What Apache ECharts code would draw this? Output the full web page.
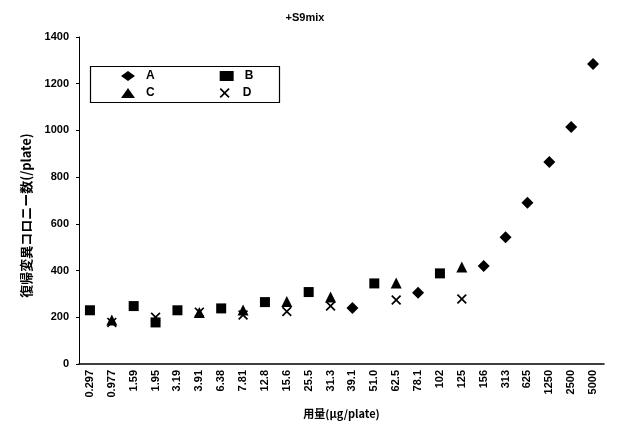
<!DOCTYPE html>
<html>
<head>
<meta charset="utf-8">
<script src="https://cdn.jsdelivr.net/npm/echarts@6/dist/echarts.min.js"></script>
<style>html,body{margin:0;padding:0;background:#fff}#c{width:630px;height:430px}</style>
</head>
<body>
<div id="c"></div>
<script>
var categories = ['0.297','0.977','1.59','1.95','3.19','3.91','6.38','7.81','12.8','15.6','25.5','31.3','39.1','51.0','62.5','78.1','102','125','156','313','625','1250','2500','5000'];
var seriesA = [null,null,null,null,null,null,null,null,null,null,null,null,240,null,null,305,null,null,420,543,690,865,1015,1284];
var seriesB = [230,null,248,178,230,null,238,null,265,null,308,null,null,345,null,null,388,null,null,null,null,null,null,null];
var seriesC = [null,188,null,null,null,220,null,231,null,268,null,287,null,null,347,null,null,415,null,null,null,null,null,null];
var seriesD = [null,178,null,200,null,222,null,210,null,225,null,248,null,null,274,null,null,278,null,null,null,null,null,null];
var yTicks = [0,200,400,600,800,1000,1200,1400];

var xPath = 'path://M0,1.2L1.2,0L5,3.8L8.8,0L10,1.2L6.2,5L10,8.8L8.8,10L5,6.2L1.2,10L0,8.8L3.8,5Z';
var font = "'Liberation Sans', Arial, sans-serif";
var cjk = "'Noto Sans CJK JP', 'Liberation Sans', sans-serif";

var chart = echarts.init(document.getElementById('c'), null, {renderer:'canvas'});
var legendText = {fontFamily:font, fontSize:12, fontWeight:'bold', color:'#000', padding:[0,0,0,6]};
chart.setOption({
  backgroundColor:'#fff',
  animation:false,
  title:{text:'+S9mix', left:300, top:7, textAlign:'center',
    textStyle:{fontFamily:font, fontSize:11, fontWeight:'bold', color:'#000'}},
  grid:{left:79, right:26, top:37, bottom:66},
  legend:[
    {data:['A','B'], left:121, top:70, padding:0, itemWidth:14, itemHeight:10, itemGap:65, textStyle:legendText},
    {data:['C','D'], left:121, top:87, padding:0, itemWidth:14, itemHeight:10, itemGap:65, textStyle:legendText}
  ],
  graphic:[{type:'rect', left:88, top:64, shape:{width:189, height:36},
    style:{fill:'none', stroke:'#000', lineWidth:1.2}, z:100}],
  xAxis:{type:'category', data:categories, boundaryGap:true,
    name:'用量(μg/plate)', nameLocation:'middle', nameGap:44,
    nameTextStyle:{fontFamily:cjk, fontSize:11, fontWeight:'bold', color:'#000'},
    axisLine:{lineStyle:{color:'#000', width:1.5}},
    axisTick:{show:false},
    axisLabel:{rotate:90, interval:0, margin:6, fontFamily:font, fontSize:11, fontWeight:'bold', color:'#000'}},
  yAxis:{type:'value', min:yTicks[0], max:yTicks[yTicks.length-1], interval:200,
    name:'復帰変異コロニー数(/plate)', nameLocation:'middle', nameGap:46, nameRotate:90,
    nameTextStyle:{fontFamily:cjk, fontSize:13, fontWeight:'bold', color:'#000', padding:[0,30,0,0]},
    axisLine:{show:true, lineStyle:{color:'#000', width:1}},
    axisTick:{show:true, length:3, lineStyle:{color:'#000'}},
    splitLine:{show:false},
    axisLabel:{margin:10, fontFamily:font, fontSize:11, fontWeight:'bold', color:'#000',
      formatter:function(v){return String(v);}}},
  series:[
    {name:'A', type:'scatter', data:seriesA, symbol:'diamond', symbolSize:12, itemStyle:{color:'#000', opacity:1}},
    {name:'B', type:'scatter', data:seriesB, symbol:'rect', symbolSize:10, itemStyle:{color:'#000', opacity:1}},
    {name:'C', type:'scatter', data:seriesC, symbol:'triangle', symbolSize:11, itemStyle:{color:'#000', opacity:1}},
    {name:'D', type:'scatter', data:seriesD, symbol:xPath, symbolSize:10, itemStyle:{color:'#000', opacity:1}}
  ]
});
</script>
</body>
</html>
